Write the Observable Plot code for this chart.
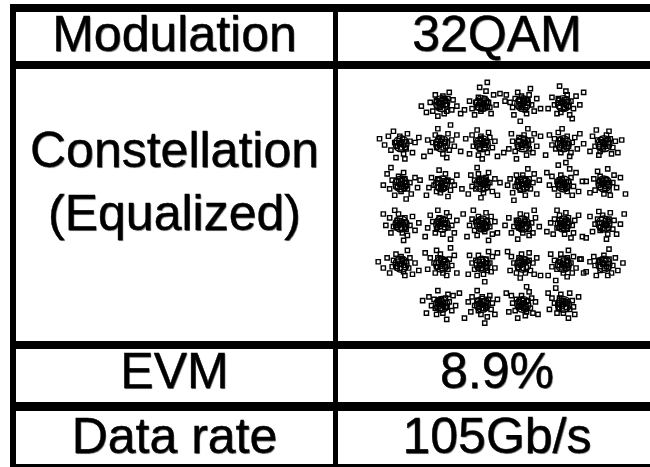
<!DOCTYPE html>
<html>
<head>
<meta charset="utf-8">
<script src="https://cdn.jsdelivr.net/npm/d3@7"></script>
<script src="https://cdn.jsdelivr.net/npm/@observablehq/plot@0.6"></script>
<style>
  html, body { margin: 0; padding: 0; background: #fff; }
  #wrap { position: relative; width: 650px; height: 467px; overflow: hidden; background: #fff; }
  .b { position: absolute; background: #000; }
  .t { position: absolute; font-family: "Liberation Sans", Arial, sans-serif; font-size: 50px; line-height: 50px;
       color: #000; text-align: center; white-space: nowrap; -webkit-text-stroke: 0.4px #000;
       text-shadow: 0.8px 0.8px 0.7px rgba(0,0,0,0.55); }
  #plot { position: absolute; left: 360px; top: 63px; }
  #plot svg { background: transparent; overflow: visible; }
</style>
</head>
<body>
<div id="wrap">
  <div id="plot"></div>
</div>
<script>
// ---- table texts ----
const rowLabels = ["Modulation", "Constellation", "(Equalized)", "EVM", "Data rate"];
const rowValues = ["32QAM", "8.9%", "105Gb/s"];

// ---- 32QAM ideal symbol positions (I, Q) ----
const idealI = [-3,-1,1,3,
                -5,-3,-1,1,3,5,
                -5,-3,-1,1,3,5,
                -5,-3,-1,1,3,5,
                -5,-3,-1,1,3,5,
                -3,-1,1,3];
const idealQ = [5,5,5,5,
                3,3,3,3,3,3,
                1,1,1,1,1,1,
                -1,-1,-1,-1,-1,-1,
                -3,-3,-3,-3,-3,-3,
                -5,-5,-5,-5];

// ---- received (equalized) samples: offsets from each ideal symbol, in 1/80 unit, pairs dI,dQ ----
const offsetUnit = 80;
// scattered samples around each symbol
const rxOffsets = [
 [-20,10,15,-5,-35,-30,40,-25,5,30,-10,-15,25,20,-45,5,10,-40,60,-10,-60,-35,30,45,-5,0,20,-30,-25,35,45,15,-15,-50,75,-40,-80,-10],
 [10,20,-25,5,30,-15,-5,-30,45,35,-40,-20,15,50,-15,25,55,-5,-50,10,5,-5,25,5,-30,-45,70,40,-70,-25,35,-40,-10,65,90,10,20,85],
 [-15,-10,20,15,-30,20,10,-25,35,-5,-5,30,-40,-15,25,35,15,-40,-50,5,45,-30,0,10,-20,45,55,20,-35,-45,30,60,-65,35,70,-20,-10,-70],
 [5,-15,-20,20,30,10,-35,-5,15,35,-10,-35,40,-20,-5,5,25,-45,-45,25,50,30,-25,-40,10,50,65,-5,-60,-20,35,-60,-15,70,80,45],
 [-25,5,20,-20,-5,30,35,10,-40,-25,10,-40,-15,-10,45,-35,-50,30,25,40,0,0,-30,50,55,5,-65,-5,15,-60,-20,-55,70,25,-85,20],
 [15,10,-20,-15,30,-25,-10,25,40,15,-35,5,5,-40,-25,35,25,40,-45,-30,50,-10,-5,0,20,-55,-55,15,60,35,-15,60,75,-30,-70,-50,35,75],
 [-10,-20,15,5,-25,15,20,-35,-5,30,30,25,-35,-10,10,-5,-15,-45,40,-15,-40,35,25,45,0,-60,-50,-40,50,10,-20,55,60,-50,-65,20],
 [10,5,-20,-10,25,-20,-15,25,35,15,-30,-30,5,35,40,-35,-40,10,15,-45,-5,-5,45,40,-45,40,55,-10,-55,-20,20,60,-25,-60,70,30,-75,-35],
 [-15,15,20,-10,-30,-20,15,30,35,5,-10,-35,-35,20,30,-35,5,0,-45,-5,45,25,-20,45,25,-50,55,-20,-55,35,-5,60,65,40,-70,-45,10,-75],
 [5,-10,-25,15,25,20,-15,-30,35,-15,-35,-10,10,35,30,-40,-5,5,-45,30,45,10,-20,-45,20,50,55,-35,-55,-30,-30,55,70,15,-80,0],
 [-20,-10,15,20,-35,15,25,-20,0,-30,-10,30,35,5,-45,-20,10,45,40,-40,-25,-45,-55,40,55,25,5,0,-70,-5,20,-60,65,-15,-40,65],
 [10,-15,-15,20,25,15,-30,-5,-5,-35,35,-25,-20,-30,15,40,40,10,-40,25,0,5,-50,-15,50,-5,-10,55,25,-50,60,35,-60,-45,80,-20,-85,15],
 [-10,10,20,-15,-25,-20,15,25,30,5,-30,15,5,-35,-15,40,40,-30,-40,-10,10,0,25,45,-45,35,50,20,-5,-55,-55,-40,60,-45,-20,65,70,5],
 [15,-5,-20,15,25,20,-10,-25,-30,-10,30,-20,0,35,-25,35,40,5,10,-45,-40,-35,45,40,-5,0,-50,20,55,-40,20,60,-60,-5,65,15,-35,-65],
 [-5,-15,20,10,-25,10,15,-30,30,25,-35,-20,-10,35,40,-10,5,5,-45,30,35,-45,-20,-45,50,45,-55,-5,25,60,60,-30,-65,45,75,10,-20,75],
 [10,15,-20,-5,20,-25,-15,30,35,5,-35,-25,0,-40,-5,0,40,35,-40,20,25,-45,-25,50,50,-15,-55,-35,15,60,65,25,-70,10,85,-40],
 [-15,15,20,-20,-30,-10,15,25,5,-35,-10,40,35,-5,-40,-35,25,-45,-5,0,-45,25,45,30,-25,55,55,-25,-60,-5,10,-65,-70,40,70,5],
 [15,5,-20,-20,25,-15,-10,25,-35,10,30,30,5,-40,-25,-35,40,-5,-5,0,-45,35,20,45,50,-35,-55,-15,-15,55,60,15,-65,-50,35,-60,85,40],
 [-5,-20,20,15,-25,10,10,-30,30,-10,-30,-25,-15,30,35,30,0,5,-40,20,40,-40,-20,-45,15,45,-50,-5,50,10,-35,55,60,-35,-60,-50,25,-65],
 [10,10,-15,-15,25,-20,-25,15,0,-35,35,5,-35,-10,15,35,40,-35,-10,40,-45,-35,25,-45,-5,0,50,25,-55,25,45,55,-20,-60,65,-10,-70,-5],
 [-10,5,15,-20,-25,-15,20,25,35,-5,-35,20,5,-40,-15,35,40,-35,-40,-40,10,45,-5,0,45,15,-50,5,30,-55,-25,55,60,35,-65,-30,75,-50],
 [5,-5,-25,20,20,20,-15,-25,35,-20,-35,0,15,-40,-5,35,40,15,-45,-30,25,45,-20,50,50,-40,-55,30,10,-60,65,0,-70,-55,80,40],
 [-15,-15,20,10,-30,15,10,-30,30,-15,-35,-10,0,30,35,25,-20,40,15,-45,-45,-35,45,-40,-5,0,-55,25,55,5,25,55,-70,-15,70,-25,-90,10],
 [10,15,-20,-10,25,-20,-15,25,-30,5,30,20,5,-35,-25,-35,40,-5,-5,40,-45,25,20,-45,50,35,0,0,-55,-20,-20,55,60,-35,-65,45,35,65],
 [-10,-5,15,20,-25,15,20,-25,30,5,-30,-20,-15,35,35,-30,5,-40,-40,5,40,30,-20,-45,-5,0,25,50,-50,35,50,-15,-55,-40,60,45,10,-70],
 [5,10,-20,-15,25,15,-15,25,30,-25,-35,5,10,-35,-25,-35,40,5,-5,40,-45,30,25,45,45,-40,-50,-25,0,0,-10,-55,55,25,-60,50,70,-45],
 [-15,10,20,-15,-25,-20,15,25,30,5,-35,15,0,-35,35,-35,-10,40,40,30,-45,-10,15,-50,-5,0,-50,40,50,-15,20,55,-60,-45,65,20,-30,-65,80,-35],
 [10,-10,-20,15,20,20,-15,-25,35,-5,-35,-5,0,35,30,-35,-40,30,15,-45,-30,-45,45,25,-5,0,-55,10,55,-25,20,60,-70,-30,75,5,-90,20],
 [-10,15,20,-10,-25,-15,15,25,30,10,-30,20,5,-35,-20,-40,40,-25,-40,-5,25,40,-5,0,45,35,-50,30,-15,55,55,-5,-60,-35,20,-60,-75,15,70,45],
 [15,-10,-20,15,25,20,-15,-25,-30,-5,35,-20,0,30,30,35,-40,30,-5,-40,40,5,-5,0,-45,-30,20,-50,50,-40,-55,10,-20,55,60,20,-70,-55,10,-75],
 [-15,-10,20,15,-25,20,15,-30,30,-15,-30,-25,-5,35,35,25,-40,5,10,-45,40,-35,-5,0,-45,35,25,50,50,10,-55,-30,-20,-55,60,-40,-65,45,15,70],
 [10,10,-20,-15,25,-20,-15,25,35,15,-35,5,0,-35,-25,-35,40,-10,-10,40,-45,25,25,45,-5,0,45,-40,-55,-20,20,-55,60,30,-60,45,-30,65]
];
// densely packed samples in the core of each symbol
const coreOffsets = [
 [5,-8,-12,6,14,10,-6,-15,18,-4,-18,-10,2,16,-9,3,10,20,-20,12],
 [-6,4,10,-12,-15,-5,8,14,-3,-18,16,6,-10,12,20,-15,0,-2,-18,-16],
 [8,8,-10,-4,12,-14,-16,10,4,18,-5,-16,18,2,-12,16,0,-8,14,14],
 [-4,10,12,-6,-14,-12,6,16,16,8,-10,2,0,-18,-18,14,20,-12,4,-2],
 [10,-5,-8,12,-15,-8,14,8,-2,-16,6,18,-18,4,18,-14,-6,-2,2,6],
 [-8,-6,12,8,-14,14,6,-16,16,-10,-4,10,-16,-12,2,18,10,2,-20,0],
 [6,12,-12,-8,14,-6,-6,16,-16,4,10,-16,0,0,18,10,-10,-18,-4,20],
 [-10,-2,8,10,-4,-14,16,-8,-16,12,4,18,12,2,-18,-10,0,-6,20,14],
 [4,-12,-14,4,10,14,-8,-8,16,0,-2,12,-16,-16,14,-16,-12,18,6,6],
 [-6,8,12,-10,-16,-4,8,12,-2,-16,18,4,-12,16,2,-2,16,16,-20,-12],
 [8,-10,-10,8,14,6,-14,-14,0,14,-4,-2,18,-8,-18,12,6,18,12,-18],
 [-4,-8,10,12,-16,4,6,-16,16,-4,-10,16,2,2,-14,-14,18,10,-2,-20],
 [10,6,-8,-12,-12,10,14,-6,-2,16,4,-18,-16,-2,16,14,0,2,-10,18],
 [-8,10,12,-4,-14,-10,6,14,16,-14,-4,-2,2,-16,-18,8,18,6,10,18],
 [6,-6,-10,10,12,8,-14,-8,-4,16,16,-12,0,2,-16,16,10,-18,-20,-2],
 [-10,4,8,-10,-4,14,14,6,-14,-14,4,-18,16,-4,-16,10,0,0,8,18],
 [4,8,-12,-6,14,-12,-6,14,16,8,-16,6,2,-16,10,0,-2,-2,-18,-14],
 [-6,-10,10,6,-14,10,12,-14,-2,14,16,-2,-16,-12,6,18,0,0,-12,2],
 [8,4,-10,-10,12,-8,-14,10,4,-16,-4,16,16,12,-16,-2,0,-4,18,-14],
 [-4,-6,10,10,-12,6,14,-12,-16,-10,6,16,16,2,-8,-16,0,0,-18,14],
 [6,10,-8,-8,14,-10,-14,6,2,-16,-6,14,16,4,-16,-14,10,16,0,-2],
 [-8,6,12,-6,-14,-12,6,14,16,10,-4,-16,-16,4,10,0,0,-2,18,-16],
 [10,-4,-10,12,12,8,-16,-8,-4,-16,4,16,16,-12,-14,4,0,0,6,20],
 [-6,-8,8,10,-12,6,14,-10,2,-16,-16,-12,10,16,-4,16,16,2,0,0],
 [4,12,-10,-6,14,-8,-12,10,-4,-16,16,6,6,-2,-16,-14,0,18,18,-14],
 [-10,-4,10,8,-6,14,14,-12,-14,6,2,-16,16,12,-18,-12,0,0,8,20],
 [6,-10,-12,8,12,10,-6,-14,16,-4,-16,-6,0,16,10,-18,-4,2,18,14],
 [-4,6,10,-8,-14,-10,8,14,-16,10,16,2,2,-16,-10,16,0,0,18,-14],
 [8,-6,-10,10,14,8,-14,-10,0,16,-4,-16,16,-12,-16,4,6,2,-2,20],
 [-8,8,12,-4,-12,-12,6,14,16,8,-16,2,4,-16,-4,-2,14,-14,-18,16],
 [6,6,-10,-10,12,-8,-14,10,-2,16,16,12,4,-16,-16,-4,0,2,10,-18],
 [-6,-8,10,10,-14,6,12,-12,2,16,-16,-14,16,2,-6,14,0,0,-18,-2]
];

// ---- build data tables ----
const ideal = idealI.map((v, k) => ({i: v, q: idealQ[k]}));
const received = [];
[rxOffsets, coreOffsets].forEach(set => set.forEach((offs, k) => {
  for (let j = 0; j + 1 < offs.length; j += 2) {
    received.push({i: idealI[k] + offs[j] / offsetUnit, q: idealQ[k] + offs[j + 1] / offsetUnit});
  }
}));

// ---- constellation plot ----
const chart = Plot.plot({
  width: 284,
  height: 281,
  margin: 0,
  x: {domain: [-7, 7], axis: null},
  y: {domain: [-7, 7], axis: null},
  marks: [
    Plot.dot(received, {x: "i", y: "q", symbol: "square", r: 2.4, stroke: "#000", strokeWidth: 1.4, fill: "none"}),
    Plot.dot(ideal, {x: "i", y: "q", r: 8, stroke: "#000", strokeWidth: 1.4, fill: "none"})
  ]
});
document.getElementById("plot").appendChild(chart);

// ---- table frame & texts ----
const wrap = document.getElementById("wrap");
function box(l, t, w, h) {
  const d = document.createElement("div");
  d.className = "b";
  Object.assign(d.style, {left: l + "px", top: t + "px", width: w + "px", height: h + "px"});
  wrap.appendChild(d);
}
function txt(s, l, w, top) {
  const d = document.createElement("div");
  d.className = "t";
  d.textContent = s;
  Object.assign(d.style, {left: l + "px", width: w + "px", top: top + "px"});
  wrap.appendChild(d);
}
// horizontal rules
box(10, 4, 660, 8);
box(10, 61, 660, 8);
box(10, 341, 660, 8);
box(10, 402, 660, 9);
box(10, 464, 660, 8);
// vertical rules
box(10, 4, 6, 470);
box(333, 4, 5, 470);

// texts (col 1 centred ~174, col 2 centred ~497)
txt(rowLabels[0], 16, 317, 8.7);
txt(rowValues[0], 338, 318, 8.7);
txt(rowLabels[1], 16, 317, 124.7);
txt(rowLabels[2], 16, 317, 187.7);
txt(rowLabels[3], 16, 317, 345.7);
txt(rowValues[1], 338, 318, 345.7);
txt(rowLabels[4], 16, 317, 410.7);
txt(rowValues[2], 338, 318, 410.7);
</script>
</body>
</html>
